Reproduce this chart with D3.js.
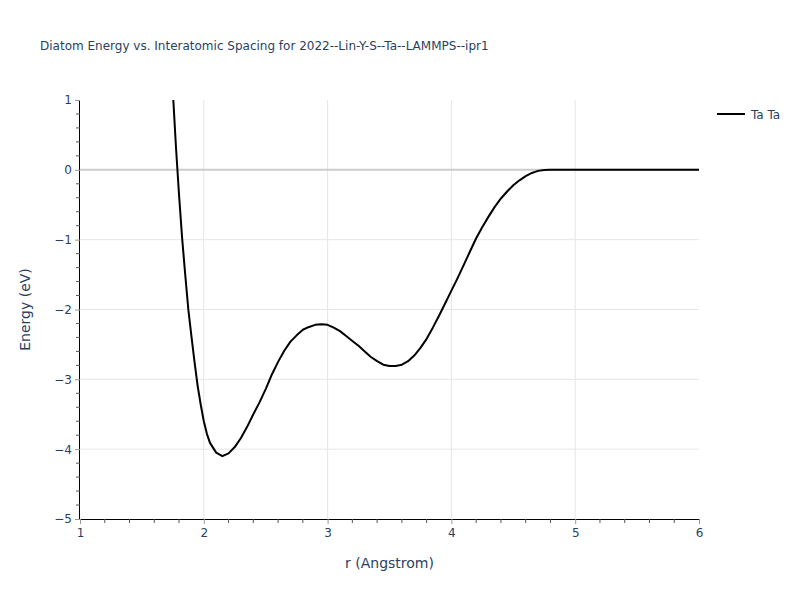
<!DOCTYPE html>
<html><head><meta charset="utf-8">
<script src="https://cdn.jsdelivr.net/npm/d3@7"></script>
<style>body{margin:0;background:#fff;} text{font-family:"DejaVu Sans",Verdana,sans-serif;}</style>
</head><body><svg id="c" width="800" height="600"></svg>
<script>
const titleText = "Diatom Energy vs. Interatomic Spacing for 2022--Lin-Y-S--Ta--LAMMPS--ipr1";
const seriesName = "Ta Ta";
const rValues = [1.75,1.775,1.80,1.825,1.85,1.875,1.90,1.925,1.95,1.975,2.00,2.025,2.05,2.10,2.15,2.20,2.25,2.30,2.35,2.40,2.45,2.50,2.55,2.60,2.65,2.70,2.75,2.80,2.85,2.90,2.95,3.00,3.05,3.10,3.15,3.20,3.25,3.30,3.35,3.40,3.45,3.50,3.55,3.60,3.65,3.70,3.75,3.80,3.85,3.90,3.95,4.00,4.05,4.10,4.15,4.20,4.25,4.30,4.35,4.40,4.45,4.50,4.55,4.60,4.65,4.70,4.75,4.80,5.00,5.50,6.00];
const energyValues = [1.12,0.33,-0.36,-0.98,-1.5,-2.0,-2.38,-2.75,-3.09,-3.36,-3.6,-3.78,-3.91,-4.05,-4.10,-4.06,-3.97,-3.84,-3.68,-3.50,-3.33,-3.14,-2.93,-2.75,-2.59,-2.46,-2.37,-2.29,-2.25,-2.22,-2.21,-2.22,-2.26,-2.31,-2.38,-2.45,-2.52,-2.60,-2.68,-2.74,-2.79,-2.81,-2.81,-2.79,-2.74,-2.66,-2.55,-2.42,-2.26,-2.09,-1.91,-1.73,-1.55,-1.36,-1.17,-0.98,-0.82,-0.67,-0.53,-0.41,-0.31,-0.22,-0.15,-0.09,-0.045,-0.015,-0.002,0,0,0,0];
const xTicks = [1,2,3,4,5,6];
const yTicks = [1,0,-1,-2,-3,-4,-5];
const xDomain = [1,6], yDomain = [-5,1];

const svg = d3.select("#c");
const L=80, R=699, T=100, B=519;
const x = d3.scaleLinear().domain(xDomain).range([L,R]);
const y = d3.scaleLinear().domain(yDomain).range([B,T]);
const fc = "#2a3f5f";
const ff = "DejaVu Sans";

// grid
svg.append("g").selectAll("line").data(xTicks.filter(t=>t>xDomain[0]&&t<xDomain[1])).join("line")
  .attr("x1",d=>x(d)).attr("x2",d=>x(d)).attr("y1",T).attr("y2",B).attr("stroke","#e6e6e6").attr("stroke-width",1);
svg.append("g").selectAll("line").data(yTicks.filter(t=>t>yDomain[0]&&t<yDomain[1]&&t!==0)).join("line")
  .attr("x1",L).attr("x2",R).attr("y1",d=>y(d)).attr("y2",d=>y(d)).attr("stroke","#e6e6e6").attr("stroke-width",1);
svg.append("line").attr("x1",L).attr("x2",R).attr("y1",y(0)).attr("y2",y(0)).attr("stroke","#cccccc").attr("stroke-width",2);

// clip
svg.append("clipPath").attr("id","clip").append("rect").attr("x",L).attr("y",T).attr("width",R-L).attr("height",B-T);
const data = rValues.map((r,i)=>[r,energyValues[i]]);
svg.append("path").datum(data).attr("clip-path","url(#clip)")
  .attr("d",d3.line().x(d=>x(d[0])).y(d=>y(d[1])))
  .attr("fill","none").attr("stroke","#000").attr("stroke-width",2).attr("stroke-linejoin","round");

// axes
const minorX = d3.range(1,6.001,0.2).map(v=>+v.toFixed(2)).filter(v=>!xTicks.includes(v));
const minorY = d3.range(-5,1.001,0.2).map(v=>+v.toFixed(2)).filter(v=>!yTicks.includes(v));
const xAxis = svg.append("g").attr("transform",`translate(0,${B})`)
  .call(d3.axisBottom(x).tickValues(xTicks).tickSize(5).tickPadding(4).tickFormat(d3.format("d")));
xAxis.select(".domain").attr("stroke","#000").attr("d",`M${L-1},0.5H${R}`);
xAxis.selectAll(".tick line").attr("stroke","#999");
xAxis.selectAll("text").attr("fill",fc).attr("font-size",12).attr("font-family",ff);
svg.append("g").selectAll("line").data(minorX).join("line")
  .attr("x1",d=>x(d)).attr("x2",d=>x(d)).attr("y1",B).attr("y2",B+4).attr("stroke","#555").attr("stroke-width",1);

const yAxis = svg.append("g").attr("transform",`translate(${L},0)`)
  .call(d3.axisLeft(y).tickValues(yTicks).tickSize(5).tickPadding(3).tickFormat(d=>d<0?"\u2212"+Math.abs(d):d));
yAxis.select(".domain").attr("stroke","#000").attr("d",`M-0.5,${T}V${B+1}`);
yAxis.selectAll(".tick line").attr("stroke","#999");
yAxis.selectAll("text").attr("fill",fc).attr("font-size",12).attr("font-family",ff);
svg.append("g").selectAll("line").data(minorY).join("line")
  .attr("x1",L-4).attr("x2",L).attr("y1",d=>y(d)).attr("y2",d=>y(d)).attr("stroke","#555").attr("stroke-width",1);

// titles
svg.append("text").attr("x",40).attr("y",50).attr("fill",fc).attr("font-size",12).text(titleText);
svg.append("text").attr("x",(L+R)/2).attr("y",568).attr("text-anchor","middle").attr("fill",fc).attr("font-size",14).text("r (Angstrom)");
svg.append("text").attr("transform",`translate(30,${(T+B)/2}) rotate(-90)`).attr("text-anchor","middle").attr("fill",fc).attr("font-size",14).text("Energy (eV)");

// legend
svg.append("line").attr("x1",717).attr("x2",745).attr("y1",114).attr("y2",114).attr("stroke","#000").attr("stroke-width",2);
svg.append("text").attr("x",751).attr("y",118.5).attr("fill",fc).attr("font-size",12).text(seriesName);
</script></body></html>
